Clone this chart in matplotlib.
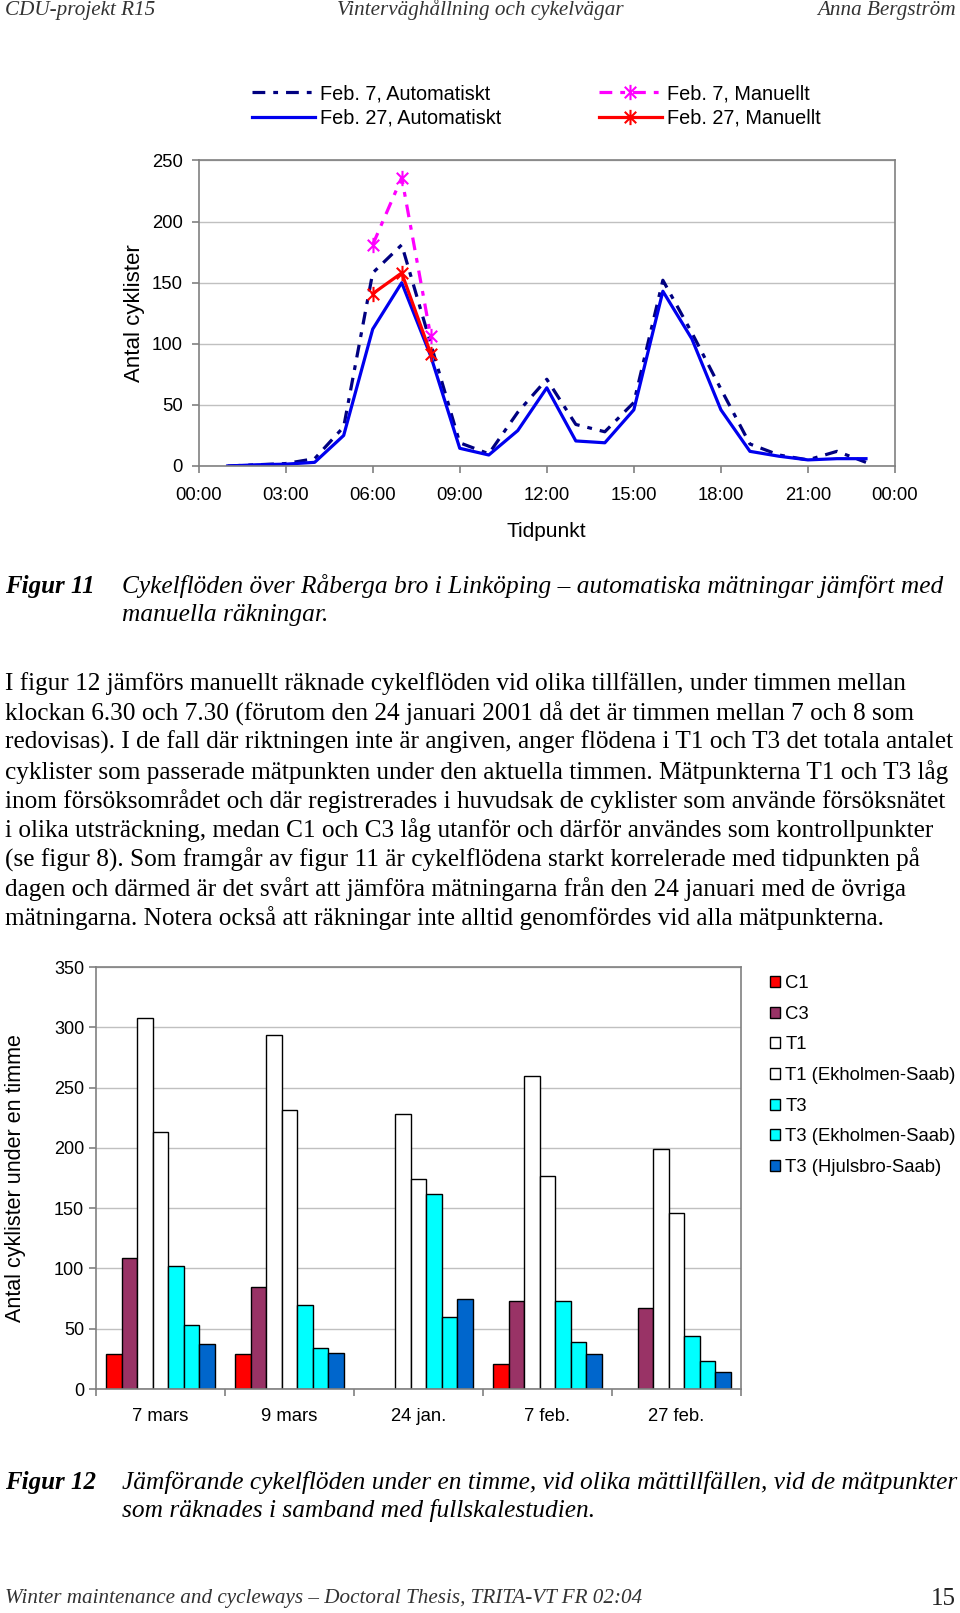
import numpy as np
import matplotlib
matplotlib.use("Agg")
import matplotlib.pyplot as plt
from matplotlib.path import Path

W, H = 960, 1613

# Figur 11: cykelflöden per timme, Råberga bro
hours = list(range(1, 24))
feb7_auto = [0, 1, 2, 6, 32, 158, 181, 100, 19, 10, 44, 71, 34, 28, 52, 152, 109, 63, 18, 9, 5, 12, 3]
feb27_auto = [0, 1, 1.5, 3, 25, 112, 150, 90, 14.5, 9, 29, 64, 20.5, 19, 46, 143, 104, 46, 12, 8, 5, 6, 6]
manual_hours = [6, 7, 8]
feb7_manual = [181, 236, 106]
feb27_manual = [141, 158, 92]
time_ticks = [0, 3, 6, 9, 12, 15, 18, 21, 24]
time_labels = ["00:00", "03:00", "06:00", "09:00", "12:00", "15:00", "18:00", "21:00", "00:00"]

# Figur 12: manuella räkningar under en timme
sites = ["7 mars", "9 mars", "24 jan.", "7 feb.", "27 feb."]
series_names = ["C1", "C3", "T1", "T1 (Ekholmen-Saab)", "T3", "T3 (Ekholmen-Saab)", "T3 (Hjulsbro-Saab)"]
c1 = [29, 29, np.nan, 21, np.nan]
c3 = [109, 85, np.nan, 73, 67]
t1 = [308, 294, 228, 260, 199]
t1_ekholmen = [213, 231, 174, 177, 146]
t3 = [102, 70, 162, 73, 44]
t3_ekholmen = [53, 34, 60, 39, 23]
t3_hjulsbro = [37, 30, 75, 29, 14]
bar_colors = ["#ff0000", "#993366", "#ffffff", "#ffffff", "#00ffff", "#00ffff", "#0066cc"]

body_lines = [
    "I figur 12 jämförs manuellt räknade cykelflöden vid olika tillfällen, under timmen mellan",
    "klockan 6.30 och 7.30 (förutom den 24 januari 2001 då det är timmen mellan 7 och 8 som",
    "redovisas). I de fall där riktningen inte är angiven, anger flödena i T1 och T3 det totala antalet",
    "cyklister som passerade mätpunkten under den aktuella timmen. Mätpunkterna T1 och T3 låg",
    "inom försöksområdet och där registrerades i huvudsak de cyklister som använde försöksnätet",
    "i olika utsträckning, medan C1 och C3 låg utanför och därför användes som kontrollpunkter",
    "(se figur 8). Som framgår av figur 11 är cykelflödena starkt korrelerade med tidpunkten på",
    "dagen och därmed är det svårt att jämföra mätningarna från den 24 januari med de övriga",
    "mätningarna. Notera också att räkningar inte alltid genomfördes vid alla mätpunkterna.",
]

SERIF = "Liberation Serif"
SANS = "Liberation Sans"
GREY = "#808080"
plt.rcParams["font.family"] = SANS


def fx(x):
    return x / W


def fy(y):
    return 1 - y / H


def style_axes(ax, size):
    for sp in ax.spines.values():
        sp.set_color(GREY)
        sp.set_linewidth(1.2)
    ax.tick_params(colors=GREY, labelcolor="black", length=5, width=1.2, labelsize=size)
    ax.grid(axis="y", color="#c0c0c0", lw=1.0)
    ax.set_axisbelow(True)


fig = plt.figure(figsize=(W / 100, H / 100), dpi=100)

# sidhuvud
head = dict(family=SERIF, style="italic", size=15.2, color="#333333", va="center")
fig.text(fx(5), fy(10), "CDU-projekt R15", ha="left", **head)
fig.text(0.5, fy(10), "Vinterväghållning och cykelvägar", ha="center", **head)
fig.text(fx(956), fy(10), "Anna Bergström", ha="right", **head)

# ---- Figur 11 ----
star = Path([(0, -1), (0, 1), (-0.75, -0.75), (0.75, 0.75), (-0.75, 0.75), (0.75, -0.75)],
            [Path.MOVETO, Path.LINETO] * 3)

ax1 = fig.add_axes([fx(198.6), fy(466), (895 - 198.6) / W, 305.5 / H])
ax1.plot(hours, feb7_auto, color="#000080", lw=2.3, dashes=(4, 2.5, 1.5, 2.5),
         label="Feb. 7, Automatiskt")
ax1.plot(hours, feb27_auto, color="#0000ee", lw=2.3, label="Feb. 27, Automatiskt")
ax1.plot(manual_hours, feb7_manual, color="#ff00ff", lw=2.3, dashes=(4, 2.5, 1.5, 2.5),
         marker=star, ms=11, mew=1.5, mec="#ff00ff", label="Feb. 7, Manuellt")
ax1.plot(manual_hours, feb27_manual, color="#ff0000", lw=2.3,
         marker=star, ms=11, mew=1.5, mec="#ff0000", label="Feb. 27, Manuellt")
ax1.set_xlim(0, 24)
ax1.set_ylim(0, 250)
ax1.set_yticks(range(0, 251, 50))
ax1.set_xticks(time_ticks, time_labels)
style_axes(ax1, 13.3)
ax1.tick_params(axis="x", pad=10)
ax1.tick_params(axis="y", pad=6.5)
ax1.set_xlabel("Tidpunkt", fontsize=15, labelpad=13)
ax1.set_ylabel("Antal cyklister", fontsize=16, labelpad=4.5)

handles, labels = ax1.get_legend_handles_labels()
leg_kw = dict(loc="upper left", frameon=False, fontsize=14.3, borderpad=0, borderaxespad=0,
              handlelength=3.15, handletextpad=0.26, labelspacing=0.3)
fig.legend(handles[:2], labels[:2], bbox_to_anchor=(fx(252), fy(84)), **leg_kw)
fig.legend(handles[2:], labels[2:], bbox_to_anchor=(fx(599), fy(84)), **leg_kw)

cap = dict(family=SERIF, size=18.25, va="center")
body = dict(family=SERIF, size=18.15, va="center")
fig.text(fx(5), fy(586.5), "Figur 11", weight="bold", style="italic", family=SERIF, size=18,
         va="center")
fig.text(fx(122.5), fy(586.5),
         "Cykelflöden över Råberga bro i Linköping – automatiska mätningar jämfört med",
         style="italic", **cap)
fig.text(fx(122.5), fy(615), "manuella räkningar.", style="italic", **cap)

# brödtext
for i, line in enumerate(body_lines):
    fig.text(fx(5), fy(684 + i * 29.3), line, **body)

# ---- Figur 12 ----
ax2 = fig.add_axes([fx(96), fy(1389), (741 - 96) / W, (1389 - 967) / H])
x = np.arange(len(sites))
width = 0.12
all_series = [c1, c3, t1, t1_ekholmen, t3, t3_ekholmen, t3_hjulsbro]
for j, (name, vals, col) in enumerate(zip(series_names, all_series, bar_colors)):
    vals = np.array(vals, dtype=float)
    ok = ~np.isnan(vals)
    ax2.bar(x[ok] + (j - 3) * width, vals[ok], width, color=col, edgecolor="black",
            lw=1.0, label=name)
ax2.set_xlim(-0.5, len(sites) - 0.5)
ax2.set_ylim(0, 350)
ax2.set_yticks(range(0, 351, 50))
ax2.set_xticks(np.arange(-0.5, len(sites)), [])
ax2.set_xticks(x, sites, minor=True)
style_axes(ax2, 13)
ax2.tick_params(axis="x", which="minor", length=0, pad=14, labelsize=13.3)
ax2.set_ylabel("Antal cyklister under en timme", fontsize=15.5, labelpad=20)
fig.legend(*ax2.get_legend_handles_labels(), loc="upper left", bbox_to_anchor=(fx(770), fy(975)),
           frameon=False, fontsize=13.3, borderpad=0, borderaxespad=0, handlelength=0.55,
           handleheight=0.55, handletextpad=0.27, labelspacing=0.74)

fig.text(fx(5), fy(1482), "Figur 12", weight="bold", style="italic", family=SERIF, size=18,
         va="center")
fig.text(fx(122.5), fy(1482),
         "Jämförande cykelflöden under en timme, vid olika mättillfällen, vid de mätpunkter",
         style="italic", **cap)
fig.text(fx(122.5), fy(1510.5), "som räknades i samband med fullskalestudien.", style="italic", **cap)

# sidfot
fig.text(fx(5), fy(1599), "Winter maintenance and cycleways – Doctoral Thesis, TRITA-VT FR 02:04",
         ha="left", **head)
fig.text(fx(956), fy(1599), "15", family=SERIF, size=18, ha="right", va="center", color="#222222")

fig.savefig("out.png", dpi=100, facecolor="white")
